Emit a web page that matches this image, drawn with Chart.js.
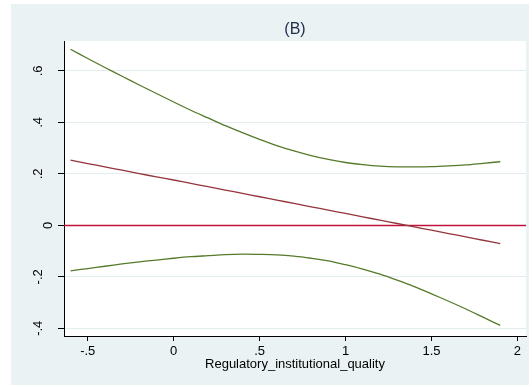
<!DOCTYPE html>
<html>
<head>
<meta charset="utf-8">
<script src="https://cdn.jsdelivr.net/npm/chart.js@4.4.1/dist/chart.umd.min.js"></script>
<style>
  html, body { margin: 0; padding: 0; background: #fff; }
  #wrap { width: 532px; height: 387px; }
</style>
</head>
<body>
<div id="wrap"><canvas id="chart" width="532" height="387"></canvas></div>
<script>
// values
const xVals = [-0.6, -0.5, -0.4, -0.3, -0.2, -0.1, 0, 0.1, 0.2, 0.3, 0.4, 0.5, 0.6,
  0.7, 0.8, 0.9, 1.0, 1.1, 1.2, 1.3, 1.4, 1.5, 1.6, 1.7, 1.8, 1.9];
const fitVals = [0.253, 0.240, 0.227, 0.214, 0.201, 0.188, 0.176, 0.163, 0.150, 0.137, 0.124, 0.111, 0.098,
  0.085, 0.072, 0.059, 0.046, 0.033, 0.020, 0.007, -0.006, -0.019, -0.032, -0.045, -0.058, -0.071];
const upperVals = [0.684, 0.648, 0.613, 0.579, 0.545, 0.512, 0.479, 0.447, 0.417, 0.387, 0.360, 0.334, 0.310,
  0.289, 0.271, 0.256, 0.244, 0.236, 0.230, 0.227, 0.227, 0.228, 0.231, 0.235, 0.241, 0.247];
const lowerVals = [-0.177, -0.168, -0.159, -0.150, -0.142, -0.135, -0.128, -0.122, -0.118, -0.114, -0.112, -0.113, -0.115,
  -0.120, -0.128, -0.138, -0.153, -0.170, -0.190, -0.213, -0.238, -0.266, -0.295, -0.325, -0.357, -0.389];
const refLine = 0;

const xTickValues = [-0.5, 0, 0.5, 1, 1.5, 2];
const xTickLabels = ['-.5', '0', '.5', '1', '1.5', '2'];
const yTickValues = [-0.4, -0.2, 0, 0.2, 0.4, 0.6];
const yTickLabels = ['-.4', '-.2', '0', '.2', '.4', '.6'];

const titleText = '(B)';
const xTitle = 'Regulatory_institutional_quality';

const GREEN = '#557a2a';
const MAROON = '#93343d';
const CRIMSON = '#c0143c';
const PANEL = '#eaf2f3';
const FONT = 'Liberation Sans, Arial, sans-serif';

const pts = ys => xVals.map((x, i) => ({ x: x, y: ys[i] }));

// background panel + white plot region, zero line, rotated y labels, title
const stataLook = {
  id: 'stataLook',
  beforeDraw(chart) {
    const { ctx, chartArea: a } = chart;
    ctx.save();
    ctx.fillStyle = '#fff';
    ctx.fillRect(0, 0, chart.width, chart.height);
    ctx.fillStyle = PANEL;
    ctx.fillRect(11, 4, 518, 381);
    ctx.fillStyle = '#fff';
    ctx.fillRect(a.left, a.top, a.right - a.left, a.bottom - a.top);
    ctx.restore();
  },
  beforeDatasetsDraw(chart) {
    const { ctx, chartArea: a, scales } = chart;
    const y = Math.round(scales.y.getPixelForValue(refLine)) + 0.5;
    ctx.save();
    ctx.strokeStyle = CRIMSON;
    ctx.lineWidth = 1.3;
    ctx.beginPath();
    ctx.moveTo(a.left, y);
    ctx.lineTo(a.right, y);
    ctx.stroke();
    ctx.restore();
  },
  afterDraw(chart) {
    const { ctx, chartArea: a, scales } = chart;
    ctx.save();
    ctx.fillStyle = '#000';
    ctx.font = '13px ' + FONT;
    ctx.textAlign = 'center';
    ctx.textBaseline = 'middle';
    yTickValues.forEach((v, i) => {
      const lbl = yTickLabels[i];
      const cx = lbl === '0' ? 48 : 38;
      ctx.save();
      ctx.translate(cx, scales.y.getPixelForValue(v));
      ctx.rotate(-Math.PI / 2);
      ctx.fillText(lbl, 0, 0);
      ctx.restore();
    });
    ctx.fillStyle = '#1e2a4a';
    ctx.font = '16px ' + FONT;
    ctx.fillText(titleText, (a.left + a.right) / 2, 30);
    ctx.restore();
  }
};

new Chart(document.getElementById('chart'), {
  type: 'line',
  data: {
    datasets: [
      { data: pts(upperVals), borderColor: GREEN, borderWidth: 1.3 },
      { data: pts(lowerVals), borderColor: GREEN, borderWidth: 1.3 },
      { data: pts(fitVals), borderColor: MAROON, borderWidth: 1.3 }
    ]
  },
  options: {
    responsive: false,
    animation: false,
    devicePixelRatio: 1,
    layout: { padding: { left: 0, top: 41, right: 6, bottom: 0 } },
    elements: { point: { radius: 0 }, line: { tension: 0.3, fill: false } },
    plugins: { legend: { display: false }, tooltip: { enabled: false }, title: { display: false } },
    scales: {
      x: {
        type: 'linear',
        min: -0.638,
        max: 2.05,
        afterBuildTicks: s => { s.ticks = xTickValues.map(v => ({ value: v })); },
        afterFit: s => { s.height = 51; },
        ticks: {
          color: '#000',
          font: { family: FONT, size: 13 },
          padding: 3,
          maxRotation: 0,
          autoSkip: false,
          callback: (v) => xTickLabels[xTickValues.indexOf(v)]
        },
        grid: { drawOnChartArea: false, drawTicks: true, tickLength: 5, tickColor: '#000' },
        border: { color: '#000', width: 1 },
        title: {
          display: true,
          text: xTitle,
          color: '#000',
          font: { family: FONT, size: 13 },
          padding: { top: 0, bottom: 15 }
        }
      },
      y: {
        min: -0.43,
        max: 0.716,
        afterBuildTicks: s => { s.ticks = yTickValues.map(v => ({ value: v })); },
        afterFit: s => { s.width = 64; },
        ticks: { display: false },
        grid: { color: '#e3ecee', lineWidth: 1, drawTicks: true, tickLength: 6, tickColor: '#000' },
        border: { color: '#000', width: 1 }
      }
    }
  },
  plugins: [stataLook]
});
</script>
</body>
</html>
